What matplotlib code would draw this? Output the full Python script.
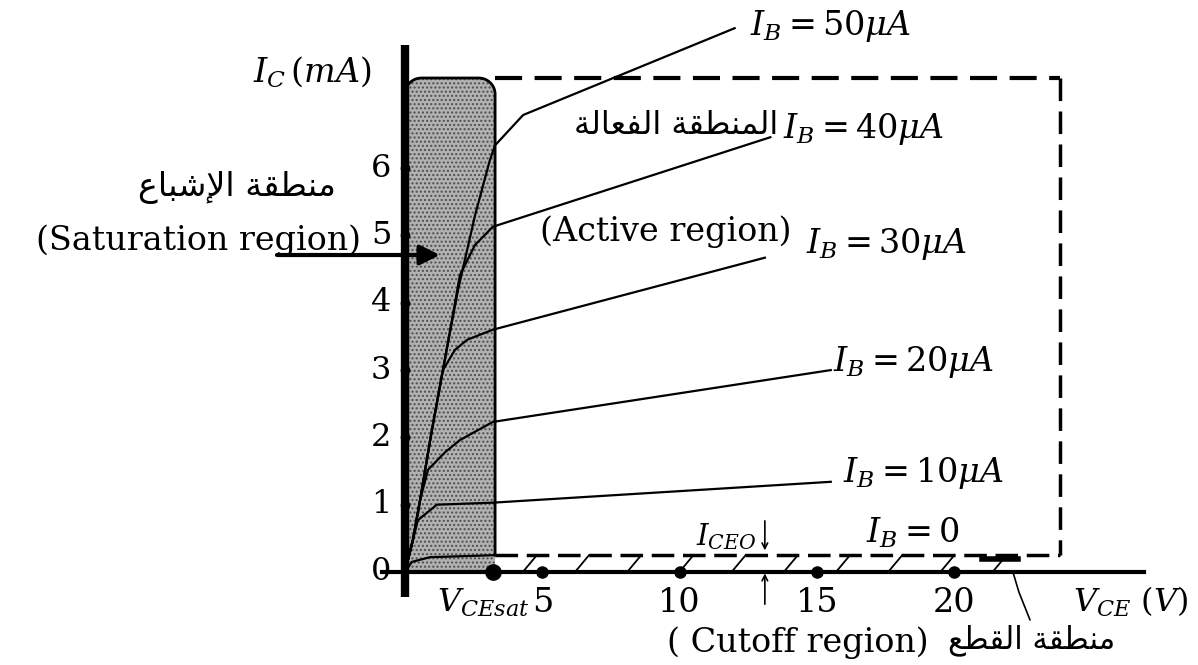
import numpy as np
import matplotlib
matplotlib.use("Agg")
import matplotlib.pyplot as plt
from matplotlib.path import Path
from matplotlib.patches import PathPatch

plt.rcParams["mathtext.fontset"] = "dejavuserif"
plt.rcParams["font.family"] = ["DejaVu Serif"]

# ---- characteristic curves: collector current (mA) vs V_CE (V) ----
vce_50 = [0, 0.29, 0.55, 0.98, 1.38, 1.93, 2.55, 3.09, 3.28, 4.30, 12.0]
ic_50 = [0, 0.48, 1.07, 2.11, 3.00, 4.19, 5.30, 6.12, 6.34, 6.79, 8.08]

vce_40 = [0, 0.29, 0.55, 0.98, 1.38, 2.00, 2.55, 3.20, 13.3]
ic_40 = [0, 0.48, 1.07, 2.11, 3.00, 4.41, 4.86, 5.13, 6.46]

vce_30 = [0, 0.29, 0.55, 0.98, 1.38, 1.82, 2.26, 3.20, 13.1]
ic_30 = [0, 0.48, 1.07, 2.11, 3.00, 3.30, 3.45, 3.60, 4.67]

vce_20 = [0, 0.29, 0.55, 0.84, 1.46, 2.00, 3.20, 15.5]
ic_20 = [0, 0.48, 1.07, 1.52, 1.78, 1.96, 2.23, 3.00]

vce_10 = [0, 0.29, 0.47, 1.16, 3.20, 15.5]
ic_10 = [0, 0.48, 0.77, 1.00, 1.03, 1.34]

vce_0 = [0, 0.25, 0.91, 3.28]
ic_0 = [0, 0.15, 0.22, 0.25]

ib_labels = ["50", "40", "30", "20", "10"]

# region boundaries
vce_sat = 3.2        # saturation voltage marker
sat_edge = 3.28      # right edge of the saturation band
vce_max = 23.84      # right edge of the active region
ic_max = 7.34        # top of the active region
i_ceo = 0.25         # leakage current with I_B = 0

x_ticks = [5, 10, 15, 20]
x_tick_labels = ["5", "10", "15", "20"]
y_ticks = [0, 1, 2, 3, 4, 5, 6]
y_tick_labels = ["0", "1", "2", "3", "4", "5", "6"]

# ---- minimal Arabic shaping (presentation forms, right-to-left) ----
AR_FORMS = {
    "ا": ("\uFE8D", "\uFE8E", None, None),
    "إ": ("\uFE87", "\uFE88", None, None),
    "ب": ("\uFE8F", "\uFE90", "\uFE91", "\uFE92"),
    "ة": ("\uFE93", "\uFE94", None, None),
    "ش": ("\uFEB5", "\uFEB6", "\uFEB7", "\uFEB8"),
    "ط": ("\uFEC1", "\uFEC2", "\uFEC3", "\uFEC4"),
    "ع": ("\uFEC9", "\uFECA", "\uFECB", "\uFECC"),
    "ف": ("\uFED1", "\uFED2", "\uFED3", "\uFED4"),
    "ق": ("\uFED5", "\uFED6", "\uFED7", "\uFED8"),
    "ل": ("\uFEDD", "\uFEDE", "\uFEDF", "\uFEE0"),
    "م": ("\uFEE1", "\uFEE2", "\uFEE3", "\uFEE4"),
    "ن": ("\uFEE5", "\uFEE6", "\uFEE7", "\uFEE8"),
}
LAM_ALEF = {"ا": ("\uFEFB", "\uFEFC"), "إ": ("\uFEF9", "\uFEFA")}


def shape_word(word):
    toks = []
    i = 0
    while i < len(word):
        c = word[i]
        if c == "ل" and i + 1 < len(word) and word[i + 1] in LAM_ALEF:
            toks.append(("LA", word[i + 1]))
            i += 2
        else:
            toks.append(("C", c))
            i += 1

    def joins_forward(t):
        return t[0] == "C" and AR_FORMS[t[1]][2] is not None

    out = []
    for k, t in enumerate(toks):
        prev = k > 0 and joins_forward(toks[k - 1])
        nxt = k + 1 < len(toks) and joins_forward(t)
        if t[0] == "LA":
            out.append(LAM_ALEF[t[1]][1 if prev else 0])
        else:
            iso, fin, ini, med = AR_FORMS[t[1]]
            if prev and nxt:
                out.append(med)
            elif prev:
                out.append(fin)
            elif nxt:
                out.append(ini)
            else:
                out.append(iso)
    return "".join(out)


def arabic(text):
    shaped = " ".join(shape_word(w) for w in text.split(" "))
    return shaped[::-1]


AR_FONT = ["DejaVu Sans"]

# ---- figure ----
fig = plt.figure(figsize=(11.98, 6.65), dpi=100)
ax = fig.add_axes([0, 0, 1, 1])
ax.set_xlim(-14.743, 28.868)
ax.set_ylim(-1.382, 8.499)
ax.axis("off")

# saturation band with rounded top
x0, x1, y0, y1 = 0.0, sat_edge, 0.0, ic_max
rx, ry = 0.6, 0.24
t1 = np.linspace(0, np.pi / 2, 20)
t2 = np.linspace(np.pi / 2, np.pi, 20)
top_right = np.column_stack([x1 - rx + rx * np.cos(t1), y1 - ry + ry * np.sin(t1)])
top_left = np.column_stack([x0 + rx + rx * np.cos(t2), y1 - ry + ry * np.sin(t2)])
verts = np.vstack([[(x0, y0), (x1, y0)], top_right, top_left, [(x0, y0)]])
band = PathPatch(Path(verts, closed=True), facecolor="#b2b2b2",
                 edgecolor="#4e4e4e", hatch="....", linewidth=0, zorder=1)
ax.add_patch(band)
outline = np.vstack([[(x1, i_ceo)], top_right, top_left])
ax.plot(outline[:, 0], outline[:, 1], color="black", lw=2.0, zorder=2)

# active-region dashed boundary
ax.plot([sat_edge, vce_max], [ic_max, ic_max], color="black", lw=3,
        dashes=(6.5, 3), zorder=2)
ax.plot([vce_max, vce_max], [ic_max, i_ceo], color="black", lw=2.5,
        dashes=(6.5, 3), zorder=2)
ax.plot([sat_edge, vce_max], [i_ceo, i_ceo], color="black", lw=2.5,
        dashes=(6.5, 2.5), zorder=2)

# cutoff hatching between I_CEO line and the axis
for xv in np.arange(4.8, 23.6, 1.9):
    ax.plot([xv, xv - 0.45], [i_ceo, 0.03], color="black", lw=1.3, zorder=2)
ax.plot([21.0, 22.3], [0.2, 0.2], color="black", lw=4, zorder=2)

# characteristic curves
curves = [(vce_50, ic_50), (vce_40, ic_40), (vce_30, ic_30),
          (vce_20, ic_20), (vce_10, ic_10), (vce_0, ic_0)]
for vx, iy in curves:
    ax.plot(vx, iy, color="black", lw=1.6, zorder=3)

# axes
ax.plot([0, 0], [-0.37, 7.83], color="black", lw=6, solid_capstyle="butt", zorder=4)
ax.plot([-0.84, 26.9], [0, 0], color="black", lw=3, zorder=4)
ax.plot(np.zeros(len(y_ticks) - 1), y_ticks[1:], "o", color="black", ms=6, zorder=5)
ax.plot(x_ticks, np.zeros(len(x_ticks)), "o", color="black", ms=8, zorder=5)
ax.plot([vce_sat], [0], "o", color="black", ms=11, zorder=5)

FS = 24
AFS = 24
for yt, lab in zip(y_ticks, y_tick_labels):
    ax.text(-0.5, yt, lab, ha="right", va="center", fontsize=FS - 1)
for xt, lab in zip(x_ticks, x_tick_labels):
    ax.text(xt, -0.6, lab, ha="center", va="baseline", fontsize=FS)

ax.text(-5.53, 7.43, r"$I_C\,(mA)$", ha="left", va="center", fontsize=FS)
ax.text(1.16, -0.59, r"$V_{CEsat}$", ha="left", va="baseline", fontsize=FS - 1)
ax.text(24.32, -0.59, r"$V_{CE}\ (V)$", ha="left", va="baseline", fontsize=FS - 1)

# base-current labels
ib_pos = [(12.56, 7.98), (13.76, 6.45), (14.6, 4.74), (15.58, 2.99), (15.94, 1.34)]
for lab, (xv, yv) in zip(ib_labels, ib_pos):
    ax.text(xv, yv, r"$I_B = %s\mu A$" % lab, ha="left", va="baseline", fontsize=FS)
ax.text(16.78, 0.43, r"$I_B = 0$", ha="left", va="baseline", fontsize=FS)

# I_CEO marker
ax.text(10.6, 0.40, r"$I_{CEO}$", ha="left", va="baseline", fontsize=FS - 3)
ax.annotate("", xy=(13.1, 0.28), xytext=(13.1, 0.8),
            arrowprops=dict(arrowstyle="->", lw=1.2, color="black"))
ax.annotate("", xy=(13.1, 0.02), xytext=(13.1, -0.52),
            arrowprops=dict(arrowstyle="->", lw=1.2, color="black"))

# region names
ax.text(-6.1, 5.72, arabic("منطقة الإشباع"), ha="center", va="center",
        fontsize=AFS, family=AR_FONT)
ax.text(-1.6, 4.93, "(Saturation region)", ha="right", va="center", fontsize=FS)
ax.annotate("", xy=(1.27, 4.71), xytext=(-4.66, 4.71),
            arrowprops=dict(arrowstyle="-|>", lw=3, color="black",
                            mutation_scale=30, shrinkA=0, shrinkB=0), zorder=6)

ax.text(13.58, 6.64, arabic("المنطقة الفعالة"), ha="right", va="center",
        fontsize=AFS - 1, family=AR_FONT)
ax.text(9.5, 5.05, "(Active region)", ha="center", va="center", fontsize=FS)

ax.text(14.3, -1.05, "( Cutoff region)", ha="center", va="center", fontsize=FS)
ax.text(22.8, -1.01, arabic("منطقة القطع"), ha="center", va="center",
        fontsize=AFS - 2, family=AR_FONT)
ax.plot([22.13, 22.35, 22.75], [0.0, -0.3, -0.71], color="black", lw=1.2)

fig.savefig("out.png", dpi=100)
